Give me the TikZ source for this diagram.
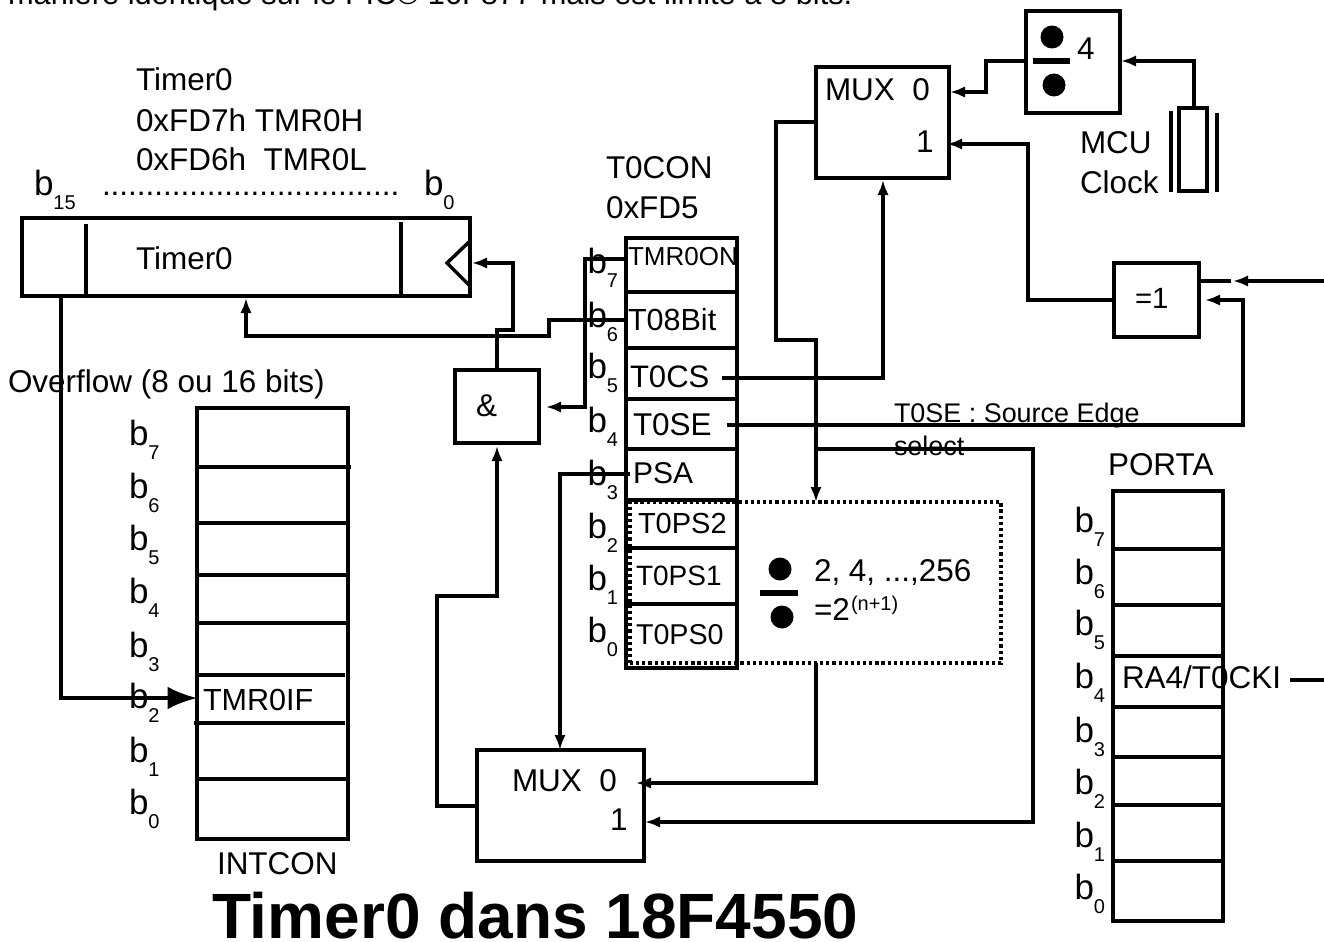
\documentclass[tikz,border=0pt]{standalone}
\usepackage{fontspec}
\setmainfont{Liberation Sans}
\usetikzlibrary{arrows.meta,calc,shapes.geometric}
\def\px{0.75pt}
\newcommand\bitlab[1]{b\raisebox{-10.5pt}{\fontsize{15pt}{15pt}\selectfont #1}}
\tikzset{
  wire/.style={line width=2.6pt,line join=miter},
  arr/.style={wire,-{Latex[length=11.25pt,width=8.5pt]}},
  block/.style={draw,line width=2.6pt,inner sep=0pt,outer sep=0pt,anchor=north west},
  rowline/.style={line width=2.5pt},
  lbl/.style={anchor=base west,inner sep=0pt,outer sep=0pt,font=\fontsize{23.6pt}{28pt}\selectfont},
  sz/.style={font=\fontsize{#1pt}{#1pt}\selectfont},
  bitl/.style={lbl,sz=26.25},
  blob/.style={fill=black,ellipse,inner sep=0pt},
  dotbox/.style={draw,line width=2.6pt,dash pattern=on 2.4pt off 2.2pt,inner sep=0pt,outer sep=0pt,anchor=north west}
}
\begin{document}
\begin{tikzpicture}[x=0.75pt,y=-0.75pt]
\useasboundingbox (0,0) rectangle (1324,942);
% --- texts at the top
\node[lbl,sz=23.1] (intro) at (8,5) {manière identique sur le PIC® 16F877 mais est limité à 8 bits.};
\node[lbl] (t1) at (136,91) {Timer0};
\node[lbl] (t2) at (136,131) {0xFD7h TMR0H};
\node[lbl] (t3) at (136,170) {0xFD6h\ \ TMR0L};
\node[bitl] (b15) at (34,195) {\bitlab{15}};
\node[lbl] (dots) at (102,195) {..................................};
\node[bitl] (b00) at (424,195) {\bitlab{0}};
% --- Timer0 register
\node[block,minimum width=448*\px,minimum height=78*\px] (tmr) at (22,218) {};
\draw[rowline] (86,224) -- (86,298);
\draw[rowline] (401,222) -- (401,296);
\draw[wire] (470,241) -- (447,263) -- (470,286);
\node[lbl] (tname) at (136,269) {Timer0};
\coordinate (tmrclk) at (472,263);
\coordinate (tmrbot) at (246,298);
% --- overflow
\node[lbl] (ovf) at (8,392) {Overflow (8 ou 16 bits)};
% --- INTCON
\node[block,minimum width=151*\px,minimum height=431*\px] (intcon) at (197,408) {};
\draw[rowline] (199,467) -- (351,467);
\foreach \y in {523,575,623} \draw[rowline] (197,\y) -- (348,\y);
\draw[rowline] (197,675) -- (345,675);
\draw[rowline] (194,723) -- (345,723);
\draw[rowline] (197,779) -- (348,779);
\foreach \y/\s in {445/7,498/6,550/5,603/4,657/3,708/2,762/1,814/0}
  \node[bitl] (ib\s) at (129,\y) {\bitlab{\s}};
\node[lbl,sz=22.9] (tmr0if) at (203,710) {TMR0IF};
\node[lbl] (intname) at (217,874) {INTCON};
\coordinate (ifport) at (197,698);
\draw[wire,-{Latex[length=22pt,width=17pt]}] (61,296) |- (ifport);
% --- T0CON
\node[lbl] (tc1) at (606,178) {T0CON};
\node[lbl] (tc2) at (606,218) {0xFD5};
\node[block,minimum width=111*\px,minimum height=430*\px] (tcon) at (626,238) {};
\draw[rowline] (626,292) -- (739,292);
\foreach \y in {348,399,449,500} \draw[rowline] (626,\y) -- (737,\y);
\draw[rowline] (624,548) -- (735,548);
\draw[rowline] (626,604) -- (737,604);
\foreach \y/\s in {273/7,327/6,378/5,432/4,485/3,538/2,590/1,642/0}
  \node[bitl] (cb\s) at (587.5,\y) {\bitlab{\s}};
\node[lbl,sz=19.5] (r7) at (628,265) {TMR0ON};
\node[lbl,sz=22.9] (r6) at (628,330) {T08Bit};
\node[lbl,sz=23.3] (r5) at (630,387) {T0CS};
\node[lbl] (r4) at (633,435) {T0SE};
\node[lbl,sz=22.5] (r3) at (633,483) {PSA};
\node[lbl,sz=21.75] (r2) at (638,533) {T0PS2};
\node[lbl,sz=21] (r1) at (636,585) {T0PS1};
\node[lbl,sz=21.5] (r0) at (636,644) {T0PS0};
% --- prescaler
\node[dotbox,minimum width=371*\px,minimum height=161*\px] (presc) at (630,502) {};
\node[blob,minimum width=23*\px,minimum height=23*\px] (pa) at (780,569) {};
\node[blob,minimum width=23*\px,minimum height=23*\px] (pb) at (782,617) {};
\draw[line width=5.2pt] (760,593) -- (798,593);
\node[lbl] (pv) at (814,581) {2, 4, ...,256};
\node[lbl] (pw) at (814,620) {=2};
\node[lbl,sz=15] (pe) at (851,610) {(n+1)};
% --- AND gate
\node[block,minimum width=84*\px,minimum height=73*\px] (and) at (455,370) {};
\node[lbl] (andt) at (476,416) {\&};
% --- MUX bottom
\node[block,minimum width=167*\px,minimum height=111*\px] (muxb) at (477,750) {};
\node[lbl] (mb1) at (512,791) {MUX\ \ 0};
\node[lbl] (mb2) at (610,830) {1};
\coordinate (muxb0) at (636,783);
\coordinate (muxb1) at (645,822);
\coordinate (muxbo) at (477,806);
\coordinate (muxbs) at (560,750);
% --- MUX top
\node[block,minimum width=133*\px,minimum height=111*\px] (muxt) at (816,67) {};
\node[lbl] (mt1) at (825,100) {MUX\ \ 0};
\node[lbl] (mt2) at (916,152) {1};
\coordinate (muxt0) at (950,92);
\coordinate (muxt1) at (947,144);
\coordinate (muxto) at (816,122);
\coordinate (muxts) at (883,180);
% --- divide by 4
\node[block,minimum width=94*\px,minimum height=102*\px] (div) at (1026,11) {};
\node[blob,minimum width=23*\px,minimum height=23*\px] (da) at (1052,37) {};
\node[blob,minimum width=23*\px,minimum height=23*\px] (db) at (1054,85) {};
\draw[line width=5.2pt] (1033,61) -- (1070,61);
\node[lbl] (dt) at (1077,60) {4};
\coordinate (divin) at (1121,61);
\coordinate (divout) at (1026,61);
% --- clock
\node[block,minimum width=28*\px,minimum height=83*\px] (xtal) at (1179,108) {};
\draw[rowline] (1171,111) -- (1171,192);
\draw[rowline] (1217,113) -- (1217,192);
\node[lbl] (ck1) at (1080,153) {MCU};
\node[lbl] (ck2) at (1080,193) {Clock};
\coordinate (xtalout) at (1194,108);
% --- XOR
\node[block,minimum width=85*\px,minimum height=74*\px] (xor) at (1114,263) {};
\node[lbl,sz=22] (xort) at (1135,308) {=1};
\coordinate (xorout) at (1114,300);
\coordinate (xorin) at (1205,300);
\coordinate (xorintop) at (1233,281);
\coordinate (xorpin) at (1199,281);
\coordinate (xorstub) at (1231,281);
\coordinate (extin) at (1324,281);
% --- notes
\node[lbl,sz=20.2] (n1) at (894,422) {T0SE : Source Edge};
\node[lbl,sz=20.2] (n2) at (894,455) {select};
% --- PORTA
\node[lbl] (pname) at (1108,475) {PORTA};
\node[block,minimum width=110*\px,minimum height=430*\px] (porta) at (1113,491) {};
\foreach \y in {549,605,656,707,757,805,861} \draw[rowline] (1113,\y) -- (1223,\y);
\foreach \y/\s in {532/7,584/6,635/5,688/4,742/3,794/2,847/1,899/0}
  \node[bitl] (pb\s) at (1074.5,\y) {\bitlab{\s}};
\node[lbl] (ra4) at (1122,688) {RA4/T0CKI};
\coordinate (ra4end) at (1324,680);
\coordinate (ra4start) at (1290,680);
\draw[wire] (ra4start) -- (ra4end);
% --- title
\node[lbl,font=\bfseries\fontsize{48pt}{48pt}\selectfont] (title) at (212,938) {Timer0 dans 18F4550};
% --- connectors
\coordinate (r7w) at (626,259);
\coordinate (r6w) at (626,320);
\coordinate (r5e) at (722,378);
\coordinate (r4e) at (727,425);
\coordinate (r3w) at (630,474);
\coordinate (andin) at (546,407);
\draw[arr] (and.north) -- ++(0,-40) -- ++(16,0) |- (tmrclk);
\draw[arr] (r6w) -- ++(-77,0) -- ++(0,16) -| (tmrbot);
\draw[arr] (r7w) -- ++(-41,0) |- (andin);
\draw[arr] (muxbo) -- ++(-40,0) -- ++(0,-210) -- ++(60,0) -- ($(and.south)+(0,3)$);
\draw[arr] (r3w) -| (muxbs);
\draw[arr] (presc.south-|816,0) |- (muxb0);
\draw[arr] (816,449) -- ++(217,0) |- (muxb1);
\draw[arr] (muxto) -- ++(-40,0) -- ++(0,218) -- ++(40,0) -- (presc.north-|816,0);
\draw[arr] (r5e) -| (muxts);
\draw[arr] (r4e) -- ++(516,0) |- (xorin);
\draw[arr] (xorout) -- ++(-86,0) |- (muxt1);
\draw[arr] (divout) -- ++(-40,0) |- (muxt0);
\draw[arr] (xtalout) |- (divin);
\draw[wire] (xorpin) -- (xorstub);
\draw[arr] (extin) -- (xorintop);
\end{tikzpicture}
\end{document}
